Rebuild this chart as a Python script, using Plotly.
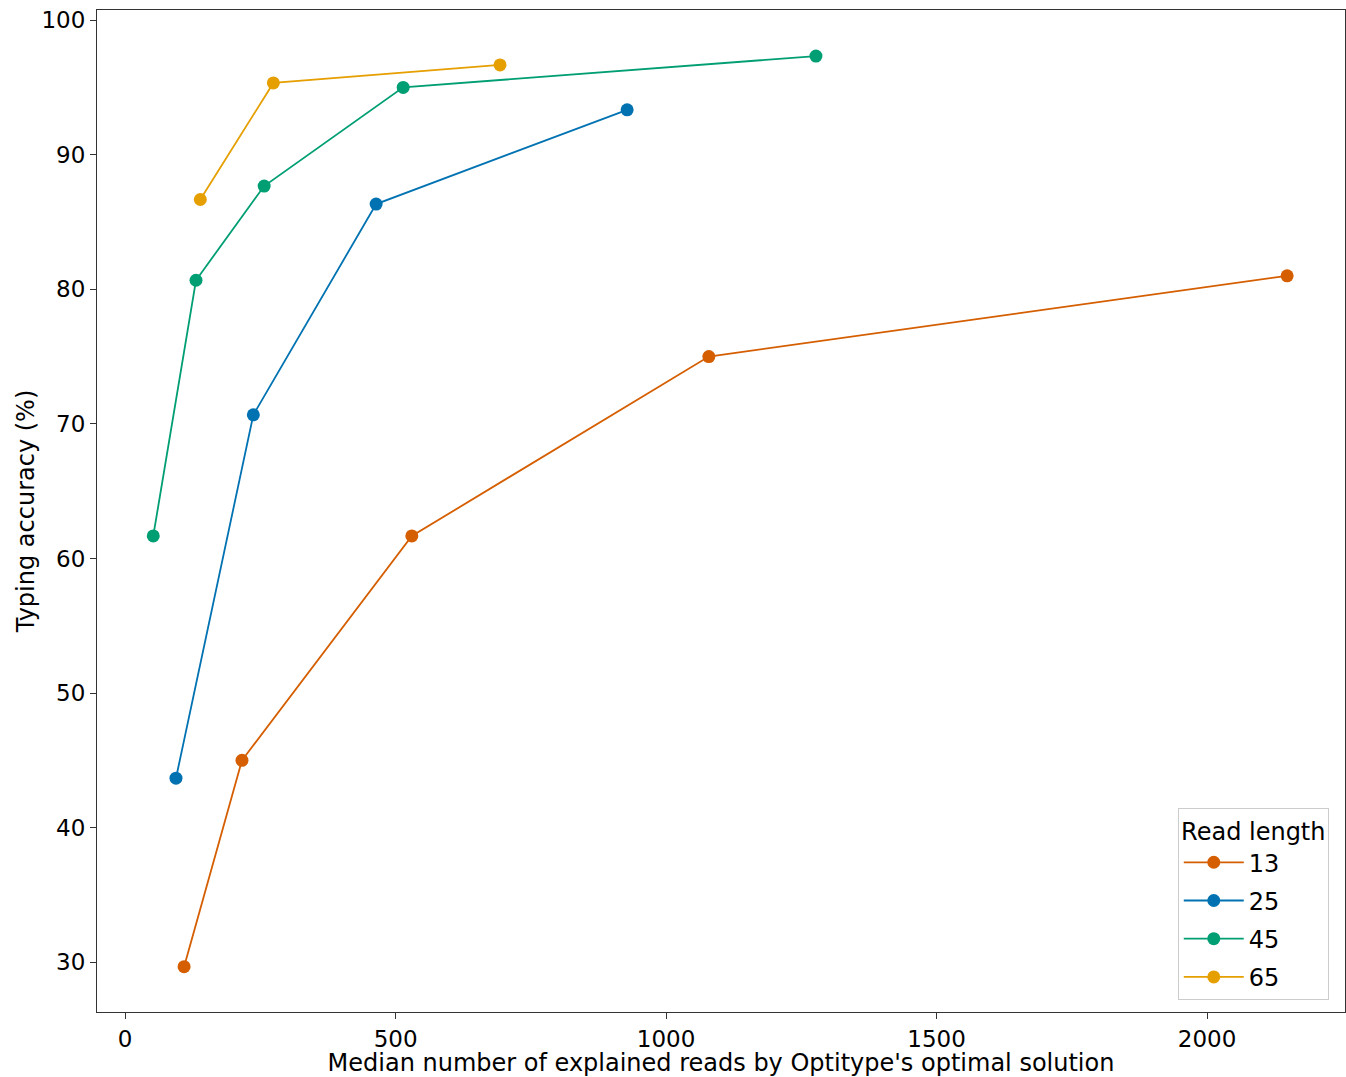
import plotly.graph_objects as go

# Median explained reads vs typing accuracy for each simulated read length
read_lengths = ["13", "25", "45", "65"]
reads_13 = [109, 216, 530, 1079, 2148]
acc_13 = [29.67, 45.0, 61.67, 75.0, 81.0]
reads_25 = [94, 237, 464, 928]
acc_25 = [43.67, 70.67, 86.33, 93.33]
reads_45 = [52, 131, 257, 514, 1277]
acc_45 = [61.67, 80.67, 87.67, 95.0, 97.33]
reads_65 = [139, 274, 693]
acc_65 = [86.67, 95.33, 96.67]

colors = ["#d55e00", "#0072b2", "#009e73", "#e69f00"]
series = [(reads_13, acc_13), (reads_25, acc_25), (reads_45, acc_45), (reads_65, acc_65)]

fig = go.Figure()
for name, (xs, ys), col in zip(read_lengths, series, colors):
    fig.add_trace(go.Scatter(
        x=xs, y=ys, name=name, legendgroup=name, mode="lines+markers",
        line=dict(color=col, width=1.8),
        marker=dict(color=col, size=13),
    ))

axis_common = dict(
    showgrid=False, zeroline=False, showline=True, mirror=True,
    linecolor="#333333", linewidth=1, ticks="outside", ticklen=6,
    tickcolor="#333333", tickfont=dict(size=23, color="black"),
)

fig.update_layout(
    width=1346, height=1077,
    margin=dict(l=97, r=1, t=10, b=65),
    paper_bgcolor="white", plot_bgcolor="white",
    font=dict(family="DejaVu Sans", color="black"),
    xaxis=dict(range=[-52, 2255], tickvals=[0, 500, 1000, 1500, 2000],
               title=dict(text="Median number of explained reads by Optitype's optimal solution",
                          font=dict(size=24), standoff=9),
               **axis_common),
    yaxis=dict(range=[26.3, 100.75], tickvals=[30, 40, 50, 60, 70, 80, 90, 100],
               title=dict(text="Typing accuracy (%)", font=dict(size=24), standoff=0),
               **axis_common),
    legend=dict(
        title=dict(text="Read length", font=dict(size=24), side="top center"),
        font=dict(size=24),
        x=0.987, y=0.012, xanchor="right", yanchor="bottom",
        bordercolor="#cccccc", borderwidth=1, bgcolor="white",
        itemwidth=60, tracegroupgap=4,
    ),
)

fig.write_html("out.html")
